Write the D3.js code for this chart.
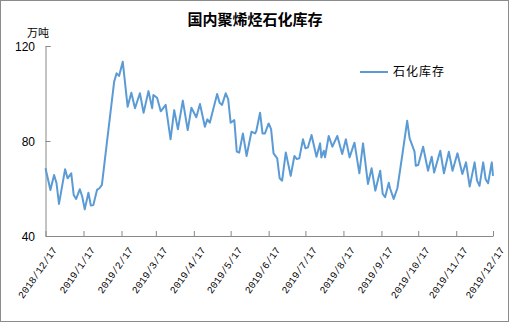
<!DOCTYPE html>
<html>
<head>
<meta charset="utf-8">
<script src="https://cdn.jsdelivr.net/npm/d3@7"></script>
<style>
  body { margin: 0; background: #fff; }
</style>
</head>
<body>
<div id="chart"></div>
<script>
// 日期与库存(万吨)
const dates = [
  "2018-12-17","2018-12-21","2018-12-24","2018-12-26","2018-12-28","2019-01-02","2019-01-04","2019-01-07",
  "2019-01-09","2019-01-11","2019-01-14","2019-01-16","2019-01-18","2019-01-21","2019-01-23","2019-01-25",
  "2019-01-28","2019-01-30","2019-02-01","2019-02-05","2019-02-11","2019-02-13","2019-02-15","2019-02-18",
  "2019-02-22","2019-02-25","2019-02-28","2019-03-04","2019-03-07","2019-03-11","2019-03-14","2019-03-15",
  "2019-03-18","2019-03-21","2019-03-25","2019-03-29","2019-04-01","2019-04-04","2019-04-08","2019-04-12",
  "2019-04-15","2019-04-19","2019-04-22","2019-04-26","2019-04-28","2019-04-30","2019-05-06","2019-05-08",
  "2019-05-10","2019-05-13","2019-05-15","2019-05-17","2019-05-20","2019-05-22","2019-05-24","2019-05-27",
  "2019-05-30","2019-06-03","2019-06-06","2019-06-07","2019-06-10","2019-06-12","2019-06-14","2019-06-17",
  "2019-06-19","2019-06-21","2019-06-24","2019-06-26","2019-06-28","2019-07-01","2019-07-05","2019-07-08",
  "2019-07-10","2019-07-12","2019-07-15","2019-07-17","2019-07-19","2019-07-22","2019-07-26","2019-07-29",
  "2019-07-30","2019-08-01","2019-08-02","2019-08-05","2019-08-08","2019-08-12","2019-08-16","2019-08-19",
  "2019-08-22","2019-08-26","2019-08-30","2019-09-02","2019-09-06","2019-09-09","2019-09-12","2019-09-16",
  "2019-09-18","2019-09-20","2019-09-23","2019-09-24","2019-09-27","2019-09-30","2019-10-04","2019-10-08",
  "2019-10-10","2019-10-14","2019-10-15","2019-10-17","2019-10-21","2019-10-25","2019-10-28","2019-10-30",
  "2019-11-04","2019-11-07","2019-11-11","2019-11-14","2019-11-18","2019-11-22","2019-11-25","2019-11-28",
  "2019-12-02","2019-12-04","2019-12-06","2019-12-09","2019-12-11","2019-12-13","2019-12-16","2019-12-17"
];
const stock = [
  68.5,59.4,65.7,62.2,53.5,68.1,64.3,66.4,
  57.3,55.6,59.7,56.5,51.2,58.2,52.8,53.0,
  59.4,60.1,61.5,79.0,105.0,108.5,107.4,113.4,
  94.4,100.3,93.8,100.1,91.9,101.0,93.8,99.4,
  98.2,92.5,95.2,80.7,93.0,84.9,97.0,84.6,
  94.0,90.0,95.6,86.0,89.1,87.7,99.8,96.1,
  95.2,100.1,97.6,87.7,88.8,75.5,75.1,83.2,
  73.7,83.9,83.2,84.3,91.9,83.2,83.2,87.4,
  85.0,74.8,72.7,64.3,63.3,75.2,65.3,73.7,
  72.4,72.7,80.7,76.9,77.3,82.5,73.4,79.0,
  73.1,75.9,73.1,82.1,77.6,82.1,74.5,80.7,
  73.1,79.3,66.4,79.0,61.9,68.5,59.1,67.5,
  57.8,56.3,62.4,60.1,55.6,60.1,74.0,88.5,
  81.1,75.5,69.6,69.9,77.6,67.5,73.4,66.7,
  75.9,66.4,75.5,67.5,74.8,66.1,71.0,60.8,
  71.0,63.3,61.1,71.0,63.9,62.2,71.0,65.3
];
const tickDates = ["2018-12-17","2019-01-17","2019-02-17","2019-03-17","2019-04-17","2019-05-17","2019-06-17",
  "2019-07-17","2019-08-17","2019-09-17","2019-10-17","2019-11-17","2019-12-17"];
const yTicks = [40, 80, 120];
const seriesName = "石化库存";

const parse = d3.timeParse("%Y-%m-%d");
const data = dates.map((d, i) => ({ date: parse(d), value: stock[i] }));

const W = 510, H = 323;
const cjk = "'Noto Sans CJK SC', sans-serif";

const svg = d3.select("#chart").append("svg")
  .attr("width", W)
  .attr("height", H);

// 外框
svg.append("rect")
  .attr("x", 0.5).attr("y", 0.5)
  .attr("width", 508).attr("height", 321)
  .attr("fill", "#fff")
  .attr("stroke", "#8c8c8c");

const x = d3.scaleTime()
  .domain([parse(tickDates[0]), parse(tickDates[tickDates.length - 1])])
  .range([45.5, 493]);

const y = d3.scaleLinear()
  .domain([40, 120])
  .range([236, 46]);

svg.append("text")
  .attr("x", 255)
  .attr("y", 25)
  .attr("text-anchor", "middle")
  .style("font-family", cjk)
  .style("font-size", "15px")
  .style("font-weight", "bold")
  .text("国内聚烯烃石化库存");

svg.append("text")
  .attr("x", 27)
  .attr("y", 37)
  .style("font-family", cjk)
  .style("font-size", "11px")
  .text("万吨");

// y 轴
const yAxis = svg.append("g")
  .attr("transform", "translate(45.5,0)")
  .call(d3.axisRight(y).tickValues(yTicks).tickSize(5).tickFormat(""));
yAxis.selectAll("line, path").attr("stroke", "#888");

svg.selectAll(".ylab")
  .data(yTicks)
  .enter()
  .append("text")
  .attr("class", "ylab")
  .attr("x", 35)
  .attr("y", d => y(d))
  .attr("dy", "0.4em")
  .attr("text-anchor", "end")
  .style("font-family", "'Liberation Sans', sans-serif")
  .style("font-size", "12px")
  .text(d => d);

// x 轴
const xAxis = svg.append("g")
  .attr("transform", "translate(0,236)")
  .call(d3.axisTop(x).tickValues(tickDates.map(parse)).tickSize(5).tickSizeOuter(0).tickFormat(""));
xAxis.selectAll("line, path").attr("stroke", "#888");

svg.selectAll(".xlab")
  .data(tickDates)
  .enter()
  .append("text")
  .attr("class", "xlab")
  .attr("transform", d => `translate(${x(parse(d)) + 12},250) rotate(-55)`)
  .attr("text-anchor", "end")
  .style("font-family", "'Liberation Mono', monospace")
  .style("font-size", "10px")
  .text(d => {
    const t = parse(d);
    return `${t.getFullYear()}/${t.getMonth() + 1}/${t.getDate()}`;
  });

// 折线
const line = d3.line()
  .x(d => x(d.date))
  .y(d => y(d.value));

svg.append("path")
  .datum(data)
  .attr("fill", "none")
  .attr("stroke", "#5b9bd5")
  .attr("stroke-width", 2)
  .attr("stroke-linejoin", "round")
  .attr("d", line);

// 图例
svg.append("line")
  .attr("x1", 360).attr("x2", 388)
  .attr("y1", 72).attr("y2", 72)
  .attr("stroke", "#5b9bd5")
  .attr("stroke-width", 2);

svg.append("text")
  .attr("x", 393)
  .attr("y", 72)
  .attr("dy", "0.36em")
  .style("font-family", cjk)
  .style("font-size", "12px")
  .style("letter-spacing", "1px")
  .text(seriesName);
</script>
</body>
</html>
